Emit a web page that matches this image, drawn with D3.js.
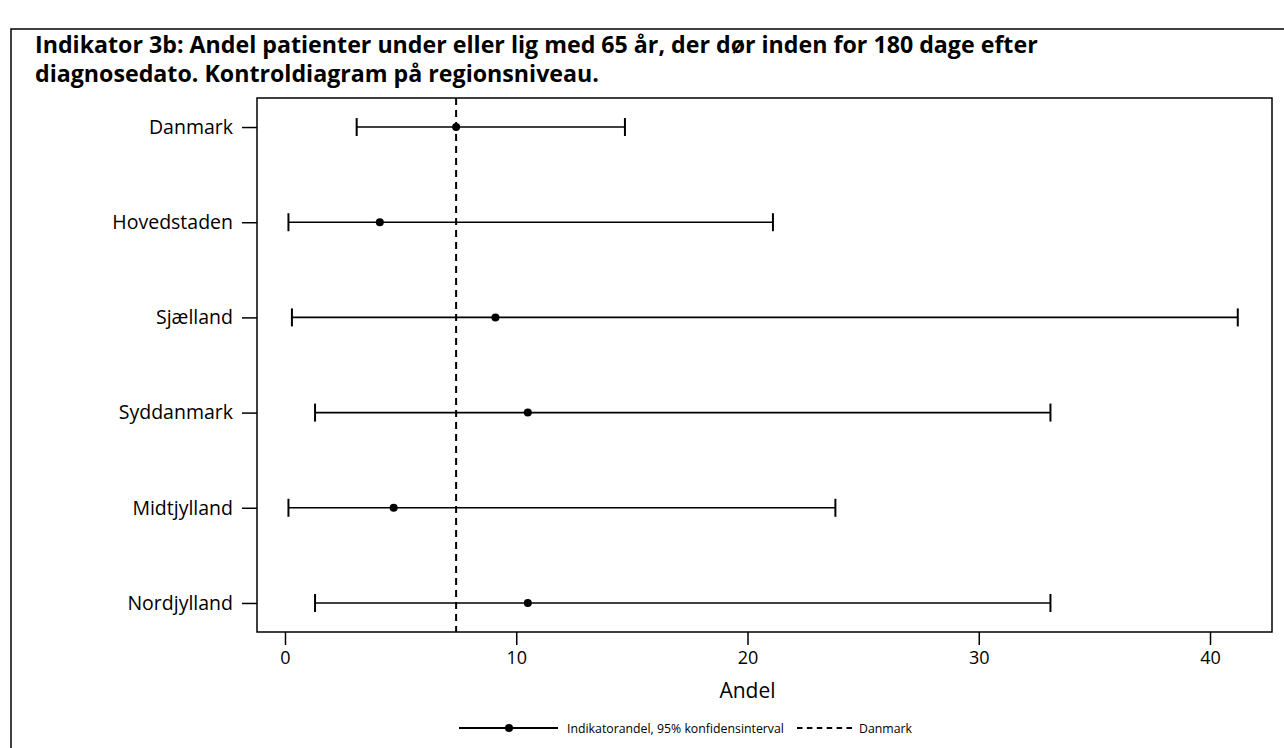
<!DOCTYPE html>
<html>
<head>
<meta charset="utf-8">
<script src="https://cdn.jsdelivr.net/npm/d3@7"></script>
<style>
  body { margin: 0; background: #fff; }
  svg { display: block; font-family: "Open Sans", sans-serif; }
</style>
</head>
<body>
<svg id="chart" width="1284" height="748"></svg>
<script>
// regions, top to bottom
const regions = ["Danmark", "Hovedstaden", "Sjælland", "Syddanmark", "Midtjylland", "Nordjylland"];
const andel = [7.4, 4.1, 9.1, 10.5, 4.7, 10.5];
const lower = [3.1, 0.15, 0.3, 1.3, 0.15, 1.3];
const upper = [14.7, 21.1, 41.2, 33.1, 23.8, 33.1];
const danmarkRef = 7.4;
const xTicks = [0, 10, 20, 30, 40];

const margin = {top: 98, right: 12, bottom: 116, left: 257};
const width = 1284 - margin.left - margin.right;
const height = 748 - margin.top - margin.bottom;

const svg = d3.select("#chart");

// outer frame
svg.append("rect")
   .attr("x", 11).attr("y", 29)
   .attr("width", 1290).attr("height", 760)
   .attr("fill", "none").attr("stroke", "#000").attr("stroke-width", 1.5);

svg.append("text")
   .attr("x", 35).attr("y", 53)
   .attr("font-size", 23.2).attr("font-weight", "bold")
   .text("Indikator 3b: Andel patienter under eller lig med 65 år, der dør inden for 180 dage efter");
svg.append("text")
   .attr("x", 35).attr("y", 82)
   .attr("font-size", 23.2).attr("font-weight", "bold")
   .text("diagnosedato. Kontroldiagram på regionsniveau.");

const g = svg.append("g").attr("transform", `translate(${margin.left},${margin.top})`);

const x = d3.scaleLinear().domain([-1.21, 42.68]).range([0, width]);
const y = d3.scalePoint().domain(regions).range([0, height]).padding(0.305);

const xAxis = g.append("g")
   .attr("transform", `translate(0,${height})`)
   .call(d3.axisBottom(x).tickValues(xTicks).tickSize(13).tickPadding(6));
const yAxis = g.append("g")
   .call(d3.axisLeft(y).tickSize(15).tickPadding(9));
[xAxis, yAxis].forEach(a => {
  a.select(".domain").remove();
  a.selectAll("line").attr("stroke", "#000").attr("stroke-width", 1.5);
  a.selectAll("text").attr("font-family", "Open Sans").attr("fill", "#000");
});
xAxis.selectAll("text").attr("font-size", 18);
yAxis.selectAll("text").attr("font-size", 19.5);

g.append("rect")
 .attr("width", width).attr("height", height)
 .attr("fill", "none").attr("stroke", "#000").attr("stroke-width", 1.5);

g.append("line")
 .attr("x1", x(danmarkRef)).attr("x2", x(danmarkRef))
 .attr("y1", 0).attr("y2", height)
 .attr("stroke", "#000").attr("stroke-width", 2)
 .attr("stroke-dasharray", "7,5");

const rows = g.selectAll(".row").data(regions).enter().append("g")
  .attr("class", "row")
  .attr("transform", d => `translate(0,${y(d)})`);

rows.append("line")
  .attr("x1", (d, i) => x(lower[i])).attr("x2", (d, i) => x(upper[i]))
  .attr("stroke", "#000").attr("stroke-width", 1.6);
rows.append("line")
  .attr("x1", (d, i) => x(lower[i])).attr("x2", (d, i) => x(lower[i]))
  .attr("y1", -9).attr("y2", 9)
  .attr("stroke", "#000").attr("stroke-width", 2);
rows.append("line")
  .attr("x1", (d, i) => x(upper[i])).attr("x2", (d, i) => x(upper[i]))
  .attr("y1", -9).attr("y2", 9)
  .attr("stroke", "#000").attr("stroke-width", 2);
rows.append("circle")
  .attr("cx", (d, i) => x(andel[i]))
  .attr("r", 4).attr("fill", "#000");

g.append("text")
 .attr("x", x(20)).attr("y", height + 66)
 .attr("text-anchor", "middle").attr("font-size", 21)
 .text("Andel");

// legend
const lg = svg.append("g").attr("transform", "translate(0,728)");
lg.append("line").attr("x1", 459).attr("x2", 558)
  .attr("stroke", "#000").attr("stroke-width", 1.8);
lg.append("circle").attr("cx", 509).attr("r", 4).attr("fill", "#000");
lg.append("text").attr("x", 567).attr("y", 4.5).attr("font-size", 12.3)
  .text("Indikatorandel, 95% konfidensinterval");
lg.append("line").attr("x1", 797).attr("x2", 852)
  .attr("stroke", "#000").attr("stroke-width", 1.8)
  .attr("stroke-dasharray", "5.5,4.4");
lg.append("text").attr("x", 859).attr("y", 4.5).attr("font-size", 12.3)
  .text("Danmark");
</script>
</body>
</html>
